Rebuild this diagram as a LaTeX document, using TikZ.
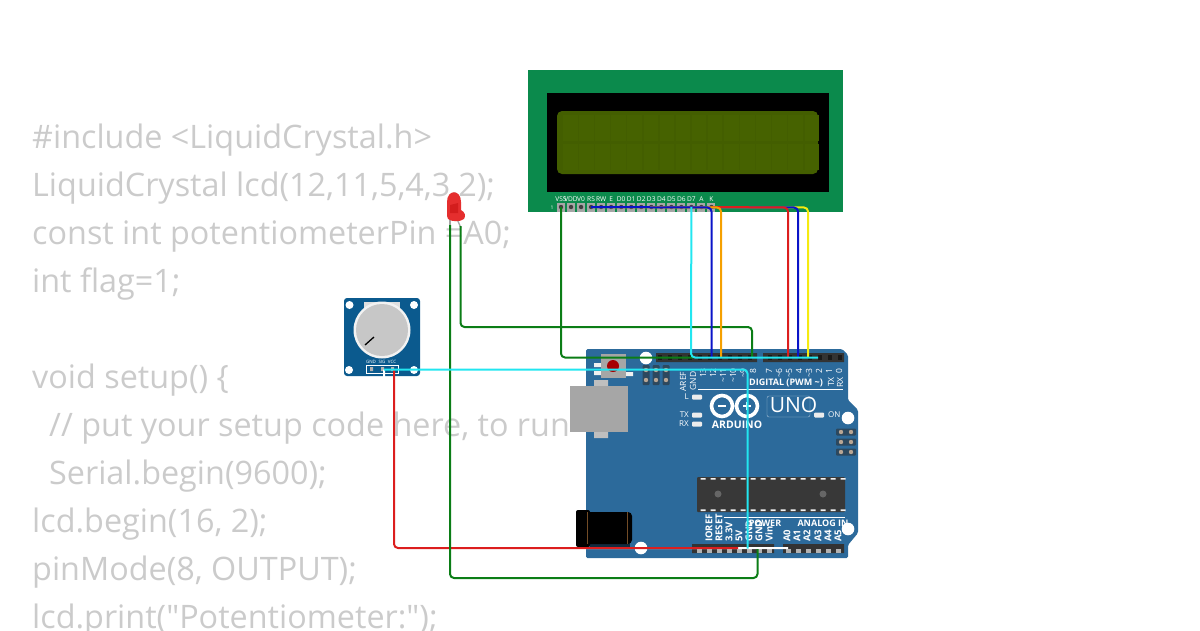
\documentclass[tikz,border=0pt]{standalone}
\usepackage{fontspec}
\setmainfont{Open Sans}
\newfontfamily\lab{Open Sans}
\definecolor{codegray}{HTML}{CBCBCB}
\definecolor{lcdgreen}{HTML}{0B8A4C}
\definecolor{lcdscreen}{HTML}{435E00}
\definecolor{lcdcell}{HTML}{466200}
\definecolor{uno}{HTML}{2C6A9B}
\definecolor{potblue}{HTML}{0B5A8E}
\definecolor{hdr}{HTML}{333333}
\definecolor{wgreen}{HTML}{0B7D16}
\definecolor{wcyan}{HTML}{22E6F0}
\definecolor{wblue}{HTML}{0A14C8}
\definecolor{wred}{HTML}{DC1E1E}
\definecolor{worange}{HTML}{F5A000}
\definecolor{wyellow}{HTML}{F5EB10}
\definecolor{pintan}{HTML}{B8A594}
\tikzset{
  x=1pt,y=-1pt,
  codeline/.style={anchor=base west,inner sep=0pt,text=codegray,font=\lab\fontsize{32.35}{32.35}\selectfont},
  wire/.style={line width=2pt,rounded corners=4pt},
  vlabel/.style={rotate=90,anchor=east,inner sep=0pt,text=white,font=\fontsize{8.5}{8.5}\selectfont},
  blabel/.style={rotate=90,anchor=west,inner sep=0pt,text=white,font=\fontsize{9.5}{9.5}\selectfont\bfseries},
  toplabel/.style={inner sep=0pt,text=white,font=\fontsize{6.6}{7}\selectfont},
  sect/.style={inner sep=0pt,text=white,font=\fontsize{9}{9}\selectfont\bfseries},
  led/.style={fill=white!85!gray,rounded corners=1pt},
  hole/.style={fill=white},
}
\begin{document}
\begin{tikzpicture}
\useasboundingbox (0,0) rectangle (1200,630);
% code text
\node[codeline] (c1) at (32,148) {\#include <LiquidCrystal.h>};
\node[codeline] (c2) at (32,196) {LiquidCrystal lcd(12,11,5,4,3,2);};
\node[codeline] (c3) at (32,244) {const int potentiometerPin =A0;};
\node[codeline] (c4) at (32,292) {int flag=1;};
\node[codeline] (c5) at (32,388) {void setup() \{};
\node[codeline] (c6) at (49,436) {// put your setup code here, to run};
\node[codeline] (c7) at (49,484) {Serial.begin(9600);};
\node[codeline] (c8) at (32,532) {lcd.begin(16, 2);};
\node[codeline] (c9) at (32,580) {pinMode(8, OUTPUT);};
\node[codeline] (c10) at (32,628) {lcd.print("Potentiometer:");};
% LCD
\fill[lcdgreen] (528,70) rectangle (843,212);
\fill[black] (547,93) rectangle (829,192);
\fill[lcdscreen,rounded corners=5pt] (557,111) rectangle (818,174);
\foreach \i in {0,...,15}{
  \fill[lcdcell] ({563+16.1*\i},115) rectangle ({577.5+16.1*\i},141);
  \fill[lcdcell] ({563+16.1*\i},144) rectangle ({577.5+16.1*\i},170);
}
\foreach \i in {0,...,15}{
  \coordinate (lp\i) at ({561+10.03*\i},207);
  \fill[gray!70] ({561+10.03*\i-4},203) rectangle ({561+10.03*\i+4},211.5);
  \fill[black!75] ({561+10.03*\i},207) circle (2.2);
}
\foreach \i/\t in {0/VSS,1/VDD,2/V0,3/RS,4/RW,5/E,6/D0,7/D1,8/D2,9/D3,10/D4,11/D5,12/D6,13/D7,14/A,15/K}
  \node[toplabel] (lt\i) at ({561+10.03*\i},199.5) {\t};
\node[toplabel,font=\fontsize{5}{5}\selectfont] (lone) at (552,208) {1};
% Arduino board
\fill[uno,rounded corners=1.5pt] (586,349) -- (842,349) -- (848,355) -- (848,400) -- (858,410) -- (858,533) -- (848,545) -- (848,558) -- (586,558) -- cycle;
\fill[hole] (646,358) circle (6.3) (848,418) circle (6.3) (641,548) circle (6.3) (848,529) circle (6.3);
% headers
\fill[hdr] (656,353) rectangle (757,362) (763,353) rectangle (844,362);
\fill[hdr] (692,544) rectangle (774,553) (783,544) rectangle (844,553);
\foreach \x in {660,670,...,750,770,780,...,840}{\fill[black!50!hdr] (\x-2,355) rectangle (\x+2,360);}
\foreach \x in {699,709,...,769,788,798,...,838}{\fill[gray!60] (\x-2.5,549) rectangle (\x+2.5,553);}
% ICSP
\foreach \x in {646,656,666}{
  \fill[black!45!uno!80!gray,rounded corners=1pt] (\x-3.5,365) rectangle (\x+3.5,385);
  \fill[pintan] (\x,370) circle (2.2) (\x,380) circle (2.2);
}
\foreach \y in {432,442,452}{
  \fill[black!45!uno!80!gray,rounded corners=1pt] (836,\y-3.5) rectangle (856,\y+3.5);
  \fill[pintan] (841,\y) circle (2.2) (851,\y) circle (2.2);
}
% reset
\fill[white!88!gray] (594,363) rectangle (601,367) (594,371) rectangle (601,375) (626,372) rectangle (633,376);
\fill[gray!70] (601,354) rectangle (626,378);
\fill[red!65!black] (613,366) circle (6);
% USB
\fill[gray!50] (594,380) rectangle (608,388) (594,430) rectangle (608,438);
\fill[gray!70] (570,386) rectangle (628,432);
% Jack
\fill[black!60!uno] (590,540) rectangle (630,548);
\fill[black,rounded corners=2pt] (576,510) rectangle (590,547);
\fill[black,rounded corners=4pt] (586,512) rectangle (632,544);
\draw[brown!60!black,line width=.4pt] (587,512) -- (587,544) (627,512) -- (627,544);
% chip
\fill[black!78,rounded corners=1pt] (697,477) rectangle (845,512);
\foreach \x in {703,713,...,843}{\fill[white!90!gray] (\x-2.5,478) rectangle (\x+2.5,479.6) (\x-2.5,509.4) rectangle (\x+2.5,511);}
\fill[black!60] (718,494) circle (3.5) (823,494) circle (3.5);
% digital labels
\foreach \x/\t in {703/13,713/12,723/\textasciitilde 11,733/\textasciitilde 10,743/\textasciitilde 9,753/8,769/7,779/\textasciitilde 6,789/\textasciitilde 5,799/4,809/\textasciitilde 3,819/2,829/1,839/0}
  \node[vlabel] (dl\x) at (\x,368) {\t};
\node[vlabel] (dAREF) at (683,371.5) {AREF};
\node[vlabel] (dGNDt) at (693,371.5) {GND};
\node[vlabel] (dTX) at (831,377) {TX};
\node[vlabel] (dRX) at (840,377) {RX};
\node[sect] (digital) at (786,383) {DIGITAL (PWM \textasciitilde)};
\draw[white,line width=.6pt] (698,389.5) -- (843,389.5);
% leds
\foreach \n/\y/\t in {l/397/L,t/415/TX,r/424/RX}{
  \fill[led] (692,\y-2.5) rectangle (702,\y+2.5);
  \node[anchor=east,inner sep=0pt,text=white,font=\fontsize{8}{8}\selectfont] (led\n) at (689,\y) {\t};
}
\fill[led] (814,412.5) rectangle (824,417.5);
\node[anchor=west,inner sep=0pt,text=white,font=\fontsize{8}{8}\selectfont] (on) at (828,415) {ON};
% logo
\draw[white,line width=3.6pt] (722,406) circle (10.5) (747,406) circle (10.5);
\draw[white,line width=1.4pt] (718,406) -- (726,406) (743,406) -- (751,406) (747,402) -- (747,410);
\node[inner sep=0pt,text=white,font=\fontsize{10.5}{10.5}\selectfont\bfseries] (ard) at (737,424.5) {ARDUINO};
\draw[white!60!uno,line width=.4pt,rounded corners=2pt] (767,396) rectangle (810,417);
\node[inner sep=0pt,text=white,font=\fontsize{21}{21}\selectfont] (unotxt) at (793.5,405) {UNO};
% bottom labels
\foreach \x/\t in {709/IOREF,719/RESET,729/3.3V,739/5V,749/GND,759/GND,769/Vin,787/A0,797/A1,807/A2,818/A3,828/A4,838/A5}
  \node[blabel] (bl\x) at (\x,542) {\t};
\node[sect] (power) at (765,523.5) {POWER};
\node[sect] (analog) at (823,523.5) {ANALOG IN};
\draw[white,line width=.6pt] (724,517) -- (783,517) (783,517) -- (845,517);
% potentiometer
\fill[potblue,rounded corners=3pt] (344,298) rectangle (420,376);
\fill[hole] (349.5,305) circle (4) (414,305) circle (4) (349,370) circle (4) (414,370) circle (4);
\fill[white!75!gray] (364,302) rectangle (400,312);
\fill[white!90!gray] (382,330) circle (28.5);
\fill[black!22] (382,330) circle (26);
\draw[black,line width=1.3pt] (365,345) -- (374,337);
\draw[white,line width=.6pt] (366,365) rectangle (398,373);
\foreach \x/\t in {371/GND,382/SIG,392/VCC}
  \node[inner sep=0pt,text=white,font=\fontsize{4.5}{5}\selectfont] (pl\t) at (\x,361.5) {\t};
\fill[black!30] (370,367) rectangle (373,371) (381,367) rectangle (384,371) (391,367) rectangle (394,371);
\coordinate (potG) at (383.5,369.5);
\coordinate (potS) at (384,369.5);
\coordinate (potV) at (394,369.5);
% LED
\draw[gray!70,line width=1.3pt] (450,219) -- (450,228);
\draw[gray!70,line width=1.3pt] (457,219) -- (461,228);
\fill[red!80!white!90!black] (447,202) .. controls (447,189) and (461,189) .. (461,202) -- (461,210)
  .. controls (465,212) and (466,216) .. (464,219) .. controls (460,222) and (452,222) .. (448,219) -- (447,216) -- cycle;
\fill[red!70!black,opacity=.35] (450,205) -- (458,203) -- (458,213) -- (450,213) -- cycle;
\coordinate (ledC) at (450,225);
\coordinate (ledA) at (460.5,226);
% board pin coordinates
\coordinate (dGND) at (693,357.5);
\coordinate (d8) at (752,357.5);
\coordinate (d2) at (818,357.5);
\coordinate (bGND) at (747.5,548.5);
\coordinate (bGNDb) at (757.5,549);
\coordinate (b5V) at (738,548);
\coordinate (bA0) at (788,548);
% wires
\draw[wire,white] (potS) -- (384,548) -- (bA0);
\draw[wire,wred] (potV) -- (394,548) -- (b5V);
\draw[wire,wgreen] (ledC) -- (450,578) -- (757.5,578) -- (bGNDb);
\draw[wire,wgreen] (ledA) -- (460.5,327) -- (752,327) -- (d8);
\draw[wire,wgreen] (lp0) -- (561,357.5) -- (dGND);
\draw[wire,wyellow] (lp3) -- (808,207.5) -- (808,357.5);
\draw[wire,wblue] (lp3) -- (798,207.5) -- (798,357.5);
\draw[wire,wred] (lp15) -- (788,207.5) -- (788,357.5);
\draw[wire,worange] (lp5) -- (721,207.5) -- (721,357.5);
\draw[wire,wblue] (lp3) -- (711.5,207.5) -- (711.5,357.5);
\draw[wire,wcyan] (lp13) -- (691,357.5) -- (d2);
\draw[wire,wcyan] (potS) -- (747.5,369.5) -- (bGND);
\end{tikzpicture}
\end{document}
